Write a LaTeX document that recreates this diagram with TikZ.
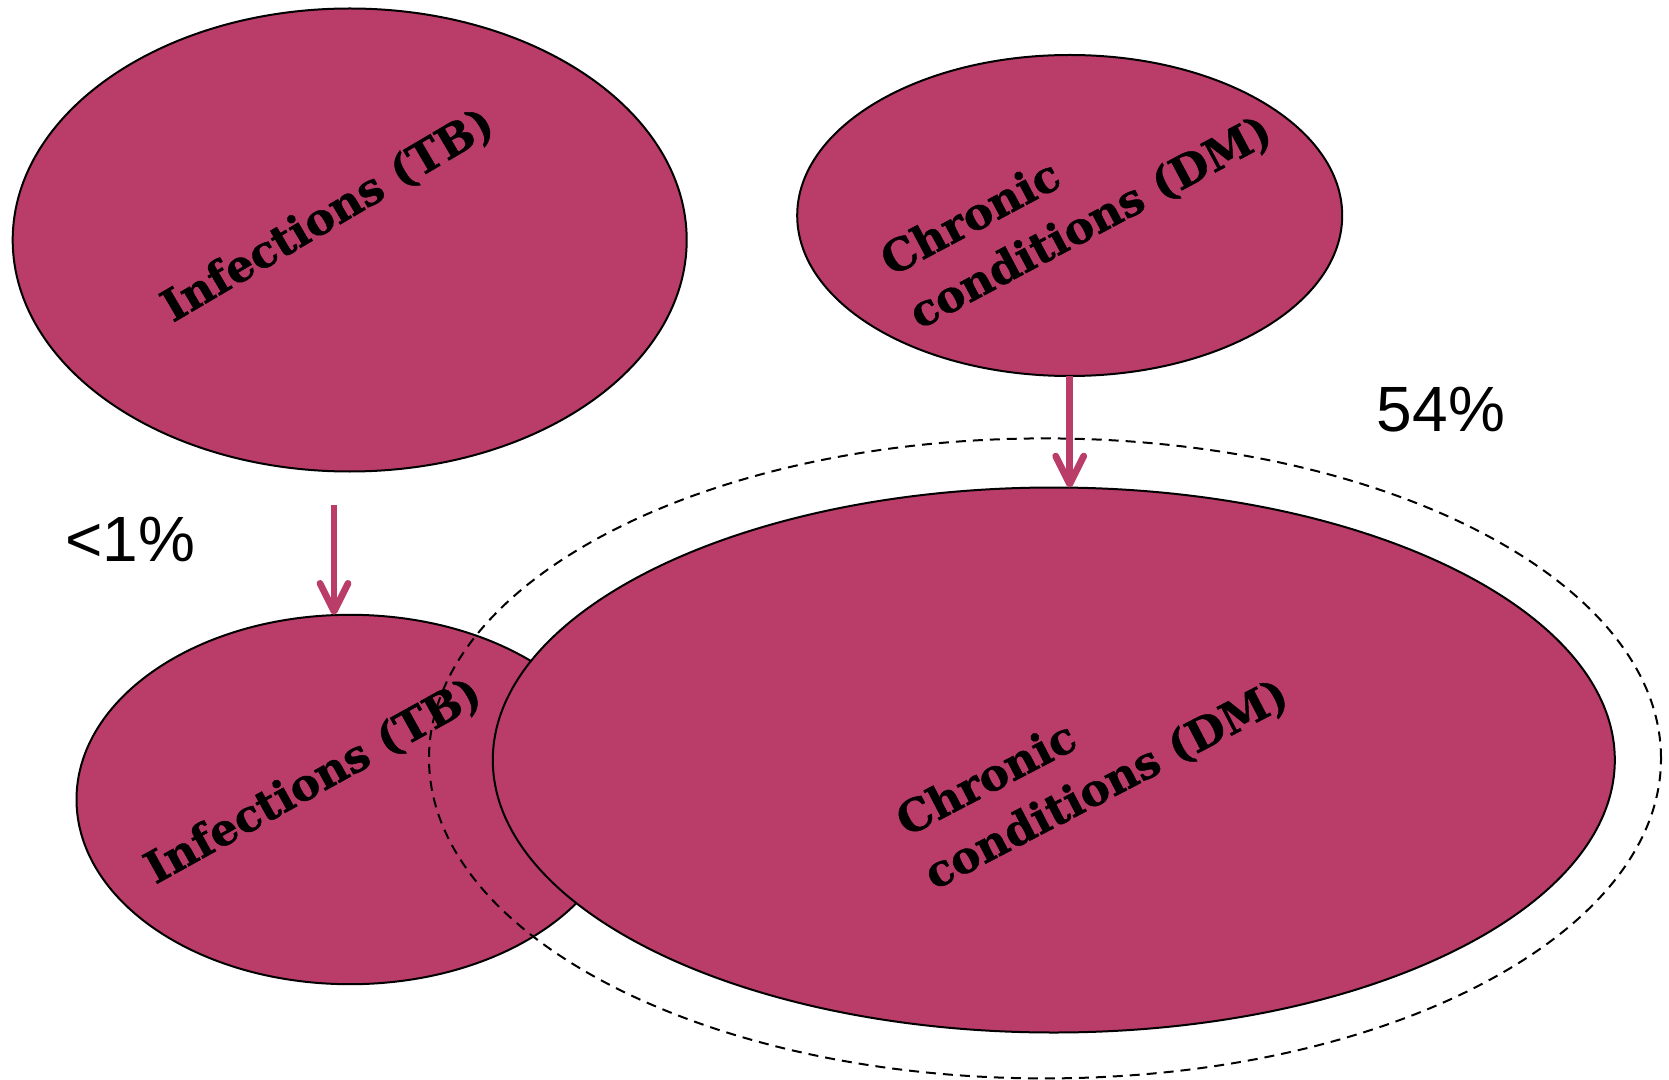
\documentclass[tikz,border=0pt]{standalone}
\usepackage{fontspec}
\setmainfont{DejaVu Serif}
\newfontfamily\lblfont{DejaVu Serif Bold}[FakeBold=1]
\newfontfamily\pctfont{Liberation Sans}
\usetikzlibrary{shapes.geometric,arrows.meta}
\definecolor{rose}{HTML}{B93D68}
\begin{document}
\begin{tikzpicture}[x=0.5pt,y=-0.5pt,
  blob/.style={ellipse,draw=black,line width=1pt,fill=rose,inner sep=0pt,outer sep=0pt},
  lbl/.style={font=\lblfont\fontsize{22}{30}\selectfont,align=left,inner sep=0pt},
  pct/.style={font=\pctfont\fontsize{32}{38}\selectfont,inner sep=0pt},
  flow/.style={draw=rose,line width=3.4pt,-{Straight Barb[length=14pt,width=14pt,round]}},
  hull/.style={ellipse,draw=black,line width=1pt,dash pattern=on 5pt off 3.5pt,inner sep=0pt,outer sep=0pt}]
\useasboundingbox (0,0) rectangle (1669,1080);
% top-left
\node[blob,minimum width=337pt,minimum height=231.5pt] (tl) at (349.7,240) {};
\node[lbl,rotate=30.5,anchor=base] (tlt) at (335,227.5) {Infections (TB)};
% top-right
\node[blob,minimum width=272.5pt,minimum height=160.5pt] (tr) at (1069.7,215.5) {};
\node[lbl,rotate=28] (trt) at (1077,197) {Chronic\\conditions (DM)};
% bottom-left
\node[blob,minimum width=273.5pt,minimum height=184.7pt] (bl) at (350,799.5) {};
\node[lbl,rotate=29,anchor=base] (blt) at (320,793.5) {Infections (TB)};
% dashed hull
\node[hull,minimum width=616pt,minimum height=320pt] (hl) at (1045,758.4) {};
% big
\node[blob,minimum width=561pt,minimum height=272.5pt] (big) at (1053.8,760) {};
\node[lbl,rotate=27.5] (bigt) at (1093,759) {Chronic\\conditions (DM)};
% arrows
\coordinate (a1) at (334,504.5);
\draw[flow] (a1) -- (a1 |- bl.north);
\draw[flow] (tr.south) -- (tr.south |- big.north);
% percentages
\node[pct] (p54) at (1441,410) {54\%};
\node[pct] (p1) at (130,539) {<1\%};
\end{tikzpicture}
\end{document}
